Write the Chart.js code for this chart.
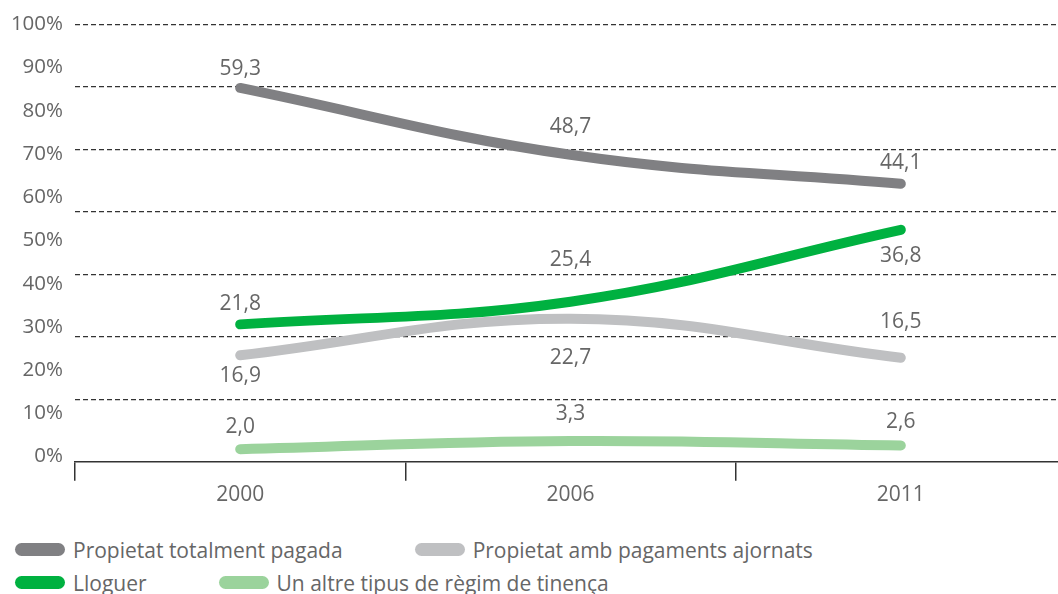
<!DOCTYPE html>
<html>
<head>
<meta charset="utf-8">
<script src="https://cdn.jsdelivr.net/npm/chart.js@4"></script>
<style>
  body { margin: 0; overflow: hidden; background: #fff; font-family: "Open Sans", sans-serif; }
  #wrap { position: relative; width: 1066px; height: 510px; }
  #legend { position: absolute; left: 15px; top: 533px; color: #666; font-size: 21px; }
  .row { display: flex; align-items: center; height: 33px; }
  .item { display: flex; align-items: center; margin-right: 72px; }
  .pill { width: 50px; height: 13px; border-radius: 7px; margin-right: 8px; }
</style>
</head>
<body>
<div id="wrap"><canvas id="chart"></canvas></div>
<div id="legend"></div>
<script>
// data
const years = ["2000", "2006", "2011"]
const pagada = [59.3, 48.7, 44.1]
const ajornats = [16.9, 22.7, 16.5]
const lloguer = [21.8, 25.4, 36.8]
const altre = [2.0, 3.3, 2.6]
const pctTicks = [0, 10, 20, 30, 40, 50, 60, 70, 80, 90, 100]
const names = [
  "Propietat totalment pagada",
  "Propietat amb pagaments ajornats",
  "Lloguer",
  "Un altre tipus de règim de tinença"
]

const colors = ["#808083", "#bfc0c2", "#00b140", "#9bd39c"]
// vertical shift of each value label from its point (px)
const labelShift = [
  [-19, -28, -21],
  [21, 39, -36],
  [-20, -42, 26],
  [-22, -27, -23]
]
const textColor = "#666"
const font = { family: "Open Sans", size: 21 }
const yFont = { family: "Open Sans", size: 20.5 }

const series = [pagada, ajornats, lloguer, altre]
const drawOrder = [3, 2, 1, 3]

const datasets = series.map((values, i) => ({
  label: names[i],
  data: values,
  borderColor: colors[i],
  backgroundColor: colors[i],
  borderWidth: 10,
  borderCapStyle: "round",
  borderJoinStyle: "round",
  pointRadius: 0,
  tension: 0.4,
  fill: false,
  order: drawOrder[i],
  yAxisID: "y"
}))

const valueLabels = {
  id: "valueLabels",
  afterDatasetsDraw(chart) {
    const ctx = chart.ctx
    ctx.save()
    ctx.font = `${font.size}px "${font.family}"`
    ctx.fillStyle = textColor
    ctx.textAlign = "center"
    ctx.textBaseline = "middle"
    chart.data.datasets.forEach((ds, i) => {
      const meta = chart.getDatasetMeta(i)
      meta.data.forEach((pt, j) => {
        const txt = ds.data[j].toFixed(1).replace(".", ",")
        ctx.fillText(txt, pt.x, pt.y + labelShift[i][j])
      })
    })
    ctx.restore()
  }
}

new Chart(document.getElementById("chart"), {
  type: "line",
  data: { labels: years, datasets: datasets },
  options: {
    responsive: true,
    maintainAspectRatio: false,
    animation: false,
    layout: { padding: { top: 9.5, right: 0, bottom: 0, left: 0 } },
    plugins: { legend: { display: false }, tooltip: { enabled: false } },
    scales: {
      x: {
        offset: true,
        grid: { offset: true, drawOnChartArea: false, drawTicks: true, tickLength: 19, color: "#333", lineWidth: 1.5 },
        border: { display: true, color: "#333", width: 1.5 },
        ticks: { color: textColor, font: font, padding: 2 }
      },
      y: {
        position: "left",
        min: 0,
        max: 69.4,
        weight: 1,
        ticks: { display: false },
        grid: { color: "#333", lineWidth: 1.2, drawTicks: false },
        border: { display: false, dash: [5, 3] },
        afterBuildTicks: (s) => {
          const t = []
          for (let i = 1; i <= 7; i++) t.push({ value: s.min + i * (s.max - s.min) / 7 })
          s.ticks = t
        },
        afterFit: (s) => { s.width = 0 }
      },
      pct: {
        position: "left",
        min: -1.2,
        max: 100,
        weight: 2,
        grid: { display: false, drawTicks: false },
        border: { display: false },
        ticks: { color: textColor, font: yFont, padding: 12, callback: (v) => v + "%" },
        afterBuildTicks: (s) => { s.ticks = pctTicks.map((v) => ({ value: v })) },
        afterFit: (s) => { s.width = 75 }
      }
    }
  },
  plugins: [valueLabels]
})

// html legend, two rows
const legend = document.getElementById("legend")
const rows = [[0, 1], [2, 3]]
rows.forEach((r) => {
  const row = document.createElement("div")
  row.className = "row"
  r.forEach((i) => {
    const item = document.createElement("div")
    item.className = "item"
    const pill = document.createElement("span")
    pill.className = "pill"
    pill.style.background = colors[i]
    const label = document.createElement("span")
    label.textContent = names[i]
    item.appendChild(pill)
    item.appendChild(label)
    row.appendChild(item)
  })
  legend.appendChild(row)
})
</script>
</body>
</html>
